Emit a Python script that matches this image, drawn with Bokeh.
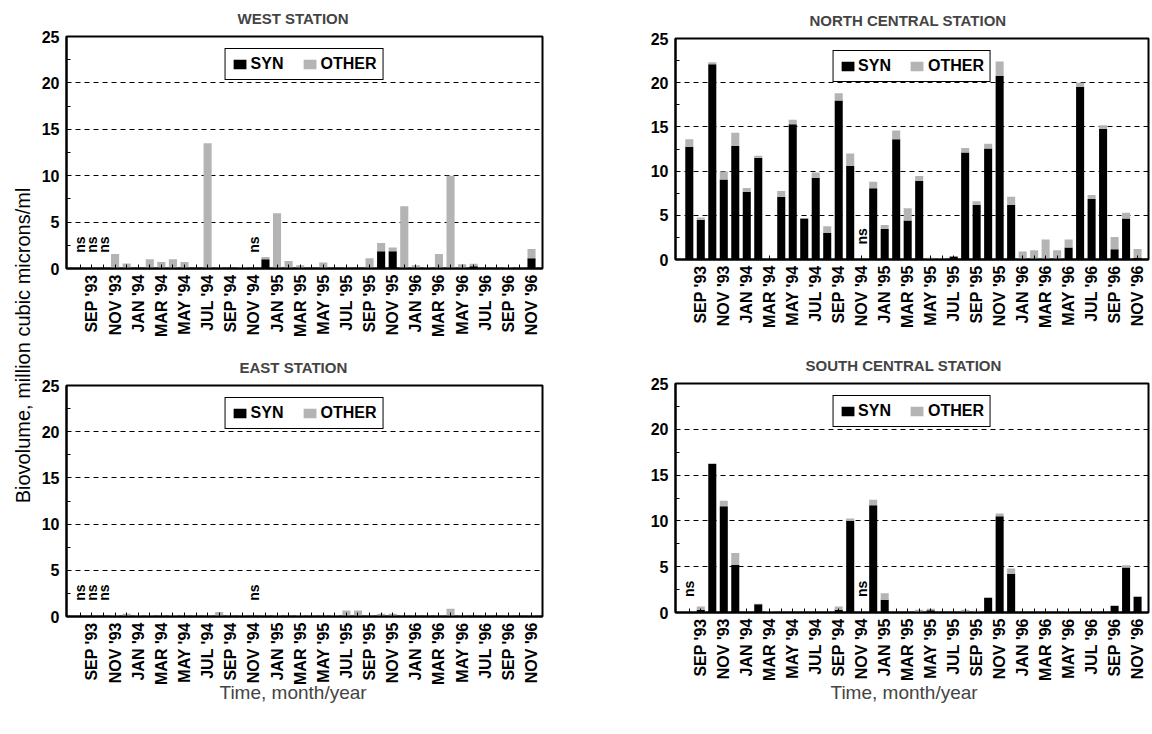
import math
from bokeh.plotting import figure
from bokeh.layouts import row, column
from bokeh.models import ColumnDataSource, Range1d, FixedTicker, Title, Label
from bokeh.embed import file_html
from bokeh.resources import INLINE

# ---------------- data ----------------
months = ["AUG '93", "SEP '93", "OCT '93", "NOV '93", "DEC '93",
          "JAN '94", "FEB '94", "MAR '94", "APR '94", "MAY '94", "JUN '94",
          "JUL '94", "AUG '94", "SEP '94", "OCT '94", "NOV '94", "DEC '94",
          "JAN '95", "FEB '95", "MAR '95", "APR '95", "MAY '95", "JUN '95",
          "JUL '95", "AUG '95", "SEP '95", "OCT '95", "NOV '95", "DEC '95",
          "JAN '96", "FEB '96", "MAR '96", "APR '96", "MAY '96", "JUN '96",
          "JUL '96", "AUG '96", "SEP '96", "OCT '96", "NOV '96"]
# tick labels shown on the axis (every other month)
tick_labels = ["SEP '93", "NOV '93", "JAN '94", "MAR '94", "MAY '94", "JUL '94",
               "SEP '94", "NOV '94", "JAN '95", "MAR '95", "MAY '95", "JUL '95",
               "SEP '95", "NOV '95", "JAN '96", "MAR '96", "MAY '96", "JUL '96",
               "SEP '96", "NOV '96"]

# None = not sampled ("ns")
west_syn = [None, None, None, 0, 0, 0, 0, 0, 0, 0, 0, 0, 0, 0, 0, None, 1.0, 0, 0, 0,
            0, 0, 0, 0, 0, 0, 1.85, 1.85, 0, 0, 0, 0, 0, 0, 0.25, 0, 0, 0, 0, 1.1]
west_other = [None, None, None, 1.55, 0.55, 0, 1.0, 0.7, 1.0, 0.7, 0.05, 13.5, 0.1, 0, 0.15, None, 0.25, 5.95, 0.8, 0.35,
              0, 0.65, 0, 0.1, 0, 1.1, 0.9, 0.4, 6.7, 0.35, 0.15, 1.55, 10.0, 0.45, 0.25, 0, 0.1, 0.15, 0.1, 1.0]

nc_syn = [12.75, 4.5, 22.1, 9.05, 12.85, 7.65, 11.5, 0, 7.1, 15.3, 4.65, 9.25, 3.0, 18.0, 10.6, None, 8.05, 3.45, 13.6, 4.4,
          8.9, 0.05, 0.0, 0.35, 12.1, 6.2, 12.55, 20.75, 6.2, 0.05, 0.05, 0.05, 0.05, 1.35, 19.55, 6.85, 14.75, 1.15, 4.65, 0.2]
nc_other = [0.85, 0.25, 0.2, 0.9, 1.5, 0.45, 0.25, 0, 0.65, 0.5, 0.05, 0.6, 0.75, 0.8, 1.4, None, 0.75, 0.45, 1.0, 1.4,
            0.55, 0.15, 0.15, 0.05, 0.5, 0.4, 0.55, 1.65, 0.9, 0.85, 1.0, 2.2, 1.0, 0.9, 0.45, 0.45, 0.45, 1.4, 0.65, 1.0]

east_syn = [None, None, None, 0, 0, 0, 0, 0, 0, 0, 0, 0, 0, 0, 0, None, 0, 0, 0, 0,
            0, 0, 0, 0, 0, 0, 0, 0, 0, 0, 0, 0, 0, 0, 0, 0, 0, 0, 0, 0]
east_other = [None, None, None, 0.15, 0.3, 0.15, 0.15, 0.1, 0.15, 0.1, 0.1, 0.1, 0.5, 0.1, 0.1, None, 0.1, 0.15, 0.1, 0.15,
              0.1, 0.1, 0.15, 0.65, 0.65, 0.1, 0.3, 0.3, 0.1, 0.1, 0.1, 0.1, 0.85, 0.1, 0.05, 0.1, 0.05, 0.1, 0.05, 0.1]

sc_syn = [None, 0.3, 16.2, 11.6, 5.2, 0, 0.9, 0, 0, 0, 0, 0, 0, 0.3, 10.0, None, 11.7, 1.4, 0, 0,
          0, 0.25, 0, 0, 0, 0, 1.6, 10.5, 4.2, 0, 0, 0, 0, 0, 0, 0, 0, 0.7, 4.9, 1.7]
sc_other = [None, 0.35, 0.1, 0.6, 1.3, 0, 0.05, 0.15, 0, 0, 0, 0, 0, 0.35, 0.25, None, 0.6, 0.7, 0, 0.05,
            0.3, 0.15, 0, 0, 0.3, 0.2, 0.05, 0.3, 0.6, 0, 0, 0, 0, 0.1, 0, 0, 0, 0.1, 0.25, 0.1]

FONT = "Liberation Sans"
GRAY = "#b4b4b4"


def make_panel(title, syn, other, width, height, bl, br, bt, bb,
               title_offset, title_standoff, title_valign,
               xlabel=None, xlabel_offset=0, xlabel_standoff=0):
    ns_x = [i for i, v in enumerate(syn) if v is None]
    src = ColumnDataSource(dict(
        x=list(range(len(months))),
        month=months,
        syn=[0 if v is None else v for v in syn],
        other=[0 if v is None else v for v in other],
    ))
    p = figure(width=width, height=height, x_range=Range1d(-1.2, 39.95), y_range=Range1d(0, 25),
               output_backend="svg", toolbar_location=None,
               min_border_left=bl, min_border_right=br, min_border_top=bt, min_border_bottom=bb)
    p.title.text = title
    p.title.align = "left"
    p.title.vertical_align = title_valign
    p.title.text_font = FONT
    p.title.text_font_size = "15px"
    p.title.text_font_style = "bold"
    p.title.offset = title_offset
    p.title.standoff = title_standoff

    p.vbar_stack(["syn", "other"], x="x", width=0.7, source=src,
                 fill_color=["#000000", GRAY], line_color=None,
                 legend_label=["SYN", "OTHER"])

    for i in ns_x:
        p.add_layout(Label(x=i, y=1.7, text="ns", angle=math.pi / 2,
                           text_align="left", text_baseline="middle", text_font=FONT,
                           text_font_style="bold", text_font_size="14px", text_color="black"))

    # x axis
    lab_map = {m: m for m in tick_labels}
    p.xaxis.ticker = FixedTicker(ticks=list(range(len(months))))
    p.xaxis.major_label_overrides = {i: lab_map.get(m, "") for i, m in enumerate(months)}
    p.xaxis.major_label_orientation = math.pi / 2
    p.xaxis.major_tick_in = 4
    p.xaxis.major_tick_out = 0
    p.xaxis.minor_tick_line_color = None
    p.xaxis.major_label_standoff = 6
    p.xaxis.major_label_text_font = FONT
    p.xaxis.major_label_text_font_size = "16px"
    p.xaxis.major_label_text_font_style = "bold"
    p.xaxis.major_label_text_color = "black"
    p.xaxis.axis_line_width = 2
    p.xaxis.axis_line_color = "black"
    p.xaxis.major_tick_line_color = "black"

    # y axis
    p.yaxis.ticker = FixedTicker(ticks=[0, 5, 10, 15, 20, 25], minor_ticks=[2.5, 7.5, 12.5, 17.5, 22.5])
    p.yaxis.major_tick_in = 4
    p.yaxis.major_tick_out = 0
    p.yaxis.minor_tick_in = 4
    p.yaxis.minor_tick_out = 0
    p.yaxis.major_label_standoff = 7
    p.yaxis.major_label_text_font = FONT
    p.yaxis.major_label_text_font_size = "16px"
    p.yaxis.major_label_text_font_style = "bold"
    p.yaxis.major_label_text_color = "black"
    p.yaxis.axis_line_width = 2
    p.yaxis.axis_line_color = "black"
    p.yaxis.major_tick_line_color = "black"
    p.yaxis.minor_tick_line_color = "black"

    p.xgrid.visible = False
    p.ygrid.ticker = FixedTicker(ticks=[5, 10, 15, 20])
    p.ygrid.grid_line_color = "black"
    p.ygrid.grid_line_dash = "5 4"
    p.ygrid.grid_line_width = 1

    p.outline_line_color = "black"
    p.outline_line_width = 2
    p.outline_line_alpha = 1.0

    lg = p.legend[0]
    lg.location = "top_center"
    lg.orientation = "horizontal"
    lg.border_line_color = "black"
    lg.border_line_width = 1
    lg.border_line_alpha = 1.0
    lg.background_fill_color = "white"
    lg.background_fill_alpha = 1.0
    lg.label_text_font = FONT
    lg.label_text_font_size = "16px"
    lg.label_text_font_style = "bold"
    lg.label_text_color = "black"
    lg.glyph_width = 16
    lg.glyph_height = 12
    lg.label_height = 15
    lg.label_standoff = 3
    lg.spacing = 18
    lg.padding = 6
    lg.margin = 12

    if xlabel:
        p.add_layout(Title(text=xlabel, align="left", vertical_align="top", text_font=FONT,
                           text_font_size="19px", text_font_style="normal",
                           offset=xlabel_offset, standoff=xlabel_standoff),
                     "below")
    return p


west = make_panel("WEST STATION", west_syn, west_other, 570, 345, 27, 66, 36, 77, 171, 15, "top")
east = make_panel("EAST STATION", east_syn, east_other, 570, 367, 27, 66, 40, 96, 173, 19, "bottom",
                  xlabel="Time, month/year", xlabel_offset=153, xlabel_standoff=-12)
nc = make_panel("NORTH CENTRAL STATION", nc_syn, nc_other, 542, 345, 67, 2, 38, 86, 134, 15, "top")
sc = make_panel("SOUTH CENTRAL STATION", sc_syn, sc_other, 542, 367, 67, 2, 38, 100, 130, 15, "top",
                xlabel="Time, month/year", xlabel_offset=155, xlabel_standoff=-3)

# shared y-axis label
lab = figure(width=38, height=712, x_range=Range1d(0, 38), y_range=Range1d(0, 712),
             output_backend="svg", toolbar_location=None, x_axis_type=None, y_axis_type=None,
             min_border=0)
lab.outline_line_color = None
lab.grid.visible = False
lab.add_layout(Label(x=22, y=367, text="Biovolume, million cubic microns/ml", angle=math.pi / 2,
                     text_align="center", text_baseline="middle", text_font=FONT,
                     text_font_size="20px", text_color="black"))

layout = row(lab, column(west, east), column(nc, sc))

open("out.html", "w").write(file_html(layout, INLINE))
